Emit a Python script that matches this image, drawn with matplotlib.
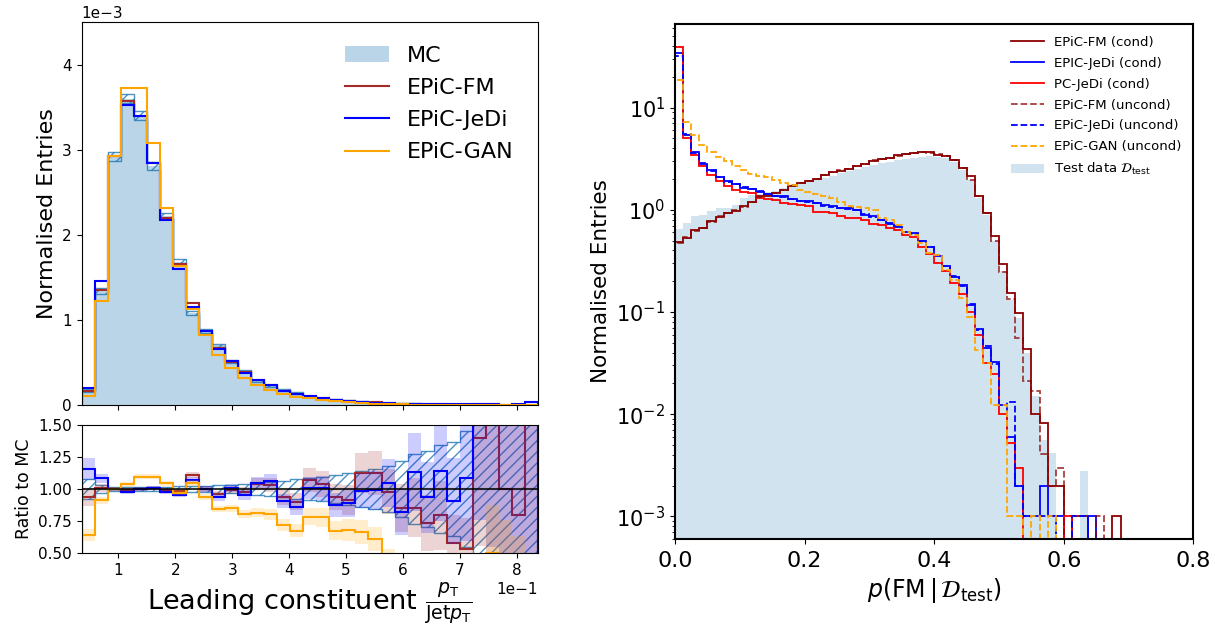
import numpy as np
import matplotlib
matplotlib.use('Agg')
import matplotlib.pyplot as plt

# ---- leading constituent pT / jet pT ----
lead_range = (0.0356, 0.837)
lead_nbins = 35

# MC histogram, normalised entries in units of 1e-3
mc_lead = [0.17, 1.34, 2.92, 3.60, 3.40, 2.81, 2.22, 1.68, 1.08, 0.87, 0.70, 0.51,
           0.40, 0.285, 0.225, 0.18, 0.145, 0.10, 0.077, 0.062, 0.047, 0.036, 0.028,
           0.022, 0.018, 0.015, 0.012, 0.010, 0.008, 0.007, 0.005, 0.004, 0.003,
           0.003, 0.002]
# relative statistical uncertainty per bin
mc_relerr = [0.075, 0.03, 0.018, 0.016, 0.016, 0.017, 0.018, 0.02, 0.022, 0.025,
             0.028, 0.032, 0.038, 0.045, 0.052, 0.062, 0.075, 0.085, 0.095, 0.11,
             0.125, 0.14, 0.155, 0.18, 0.22, 0.27, 0.3, 0.34, 0.37, 0.45, 0.6,
             0.75, 0.9, 1.1, 1.4]

# generated / MC ratios
ratio_fm = [0.934, 1.01, 1.0, 0.992, 1.0, 1.01, 0.992, 0.984, 1.109, 1.0, 0.96,
            0.99, 0.98, 1.036, 1.03, 0.934, 0.9, 1.07, 1.04, 0.935, 0.915, 1.125,
            1.125, 0.98, 0.85, 0.855, 0.735, 0.795, 0.58, 0.535, 1.395, 2.0, 1.0,
            0.8, 2.0]
ratio_jedi = [1.155, 1.083, 1.0, 0.979, 0.997, 1.01, 0.979, 0.953, 1.07, 1.0,
              0.934, 1.01, 0.953, 1.044, 1.06, 0.908, 0.861, 1.005, 1.005, 0.875,
              0.89, 0.987, 0.99, 1.044, 0.822, 1.13, 0.934, 1.14, 0.905, 1.083,
              1.9, 2.2, 1.8, 2.5, 15.0]
ratio_gan = [0.639, 0.913, 1.0, 1.036, 1.096, 1.096, 1.044, 0.971, 1.049, 0.94,
             0.841, 0.849, 0.802, 0.815, 0.802, 0.72, 0.674, 0.785, 0.78, 0.675,
             0.68, 0.665, 0.61, 0.45, 0.35, 0.3, 0.25, 0.3, 0.2, 0.25, 0.3, 0.5,
             0.4, 0.3, 0.2]

lead_models = ['EPiC-FM', 'EPiC-JeDi', 'EPiC-GAN']
lead_colors = ['brown', 'blue', 'orange']

# ---- classifier output p(FM | D_test) ----
p_range = (0.0, 0.8)
p_nbins = 64

fm_cond = [0.48, 0.53, 0.64, 0.66, 0.77, 0.85, 0.94, 0.98, 1.08, 1.18, 1.35, 1.38,
           1.46, 1.57, 1.72, 1.83, 1.92, 2.02, 2.17, 2.32, 2.42, 2.5, 2.66, 2.82,
           3.02, 3.14, 3.21, 3.4, 3.51, 3.6, 3.65, 3.65, 3.46, 3.38, 3.09, 2.56,
           2.12, 1.37, 0.93, 0.55, 0.296, 0.153, 0.097, 0.043, 0.010, 0.0081,
           0.002, 0.002, 0, 0.001, 0.001, 0, 0, 0, 0.001, 0, 0, 0, 0, 0, 0, 0, 0, 0]
jedi_cond = [34, 5.43, 3.65, 2.83, 2.43, 2.09, 1.9, 1.79, 1.65, 1.6, 1.51, 1.43,
             1.37, 1.35, 1.27, 1.23, 1.21, 1.16, 1.12, 1.08, 1.04, 1.03, 1.0, 0.89,
             0.86, 0.79, 0.74, 0.68, 0.61, 0.59, 0.49, 0.437, 0.354, 0.284, 0.222,
             0.184, 0.117, 0.068, 0.044, 0.0327, 0.0122, 0.006, 0.002, 0.001,
             0.001, 0.002, 0.001, 0.001, 0, 0, 0, 0.001, 0, 0, 0, 0, 0, 0, 0, 0,
             0, 0, 0, 0]
pcjedi_cond = [39, 5.04, 3.46, 2.66, 2.2, 1.9, 1.72, 1.55, 1.48, 1.46, 1.30, 1.27,
               1.25, 1.16, 1.15, 1.12, 1.08, 0.96, 0.96, 0.94, 0.86, 0.84, 0.84,
               0.79, 0.73, 0.71, 0.66, 0.63, 0.57, 0.54, 0.43, 0.37, 0.30, 0.25,
               0.194, 0.15, 0.1, 0.059, 0.0316, 0.0247, 0.0101, 0.0052, 0.003, 0,
               0, 0, 0, 0, 0.001, 0, 0, 0, 0, 0, 0, 0, 0, 0, 0, 0, 0, 0, 0, 0]
fm_uncond = [0.47, 0.54, 0.62, 0.67, 0.76, 0.86, 0.93, 0.99, 1.07, 1.19, 1.33,
             1.39, 1.47, 1.56, 1.73, 1.82, 1.93, 2.01, 2.18, 2.33, 2.43, 2.49,
             2.68, 2.8, 3.04, 3.12, 3.23, 3.38, 3.53, 3.58, 3.66, 3.63, 3.48, 3.36,
             3.1, 2.54, 1.97, 1.36, 0.94, 0.49, 0.248, 0.133, 0.056, 0.021, 0.0169,
             0.0041, 0.002, 0.003, 0, 0, 0, 0, 0.001, 0, 0, 0, 0, 0, 0, 0, 0, 0,
             0, 0]
jedi_uncond = [32, 5.5, 3.6, 2.9, 2.4, 2.1, 1.88, 1.78, 1.67, 1.58, 1.52, 1.42,
               1.38, 1.33, 1.28, 1.22, 1.2, 1.17, 1.1, 1.07, 1.05, 1.02, 0.99, 0.9,
               0.85, 0.8, 0.73, 0.69, 0.6, 0.58, 0.5, 0.43, 0.36, 0.28, 0.225,
               0.18, 0.12, 0.066, 0.046, 0.031, 0.0122, 0.013, 0.002, 0.001, 0.001,
               0.001, 0.001, 0, 0, 0.001, 0.001, 0, 0, 0, 0, 0, 0, 0, 0, 0, 0, 0,
               0, 0]
gan_uncond = [18.8, 7.18, 5.43, 4.34, 3.65, 3.28, 2.97, 2.66, 2.43, 2.25, 2.15,
              2.09, 1.97, 1.83, 1.76, 1.55, 1.48, 1.43, 1.35, 1.30, 1.2, 1.1, 1.06,
              1.04, 1.0, 0.83, 0.8, 0.71, 0.61, 0.57, 0.47, 0.38, 0.36, 0.26, 0.207,
              0.136, 0.09, 0.042, 0.032, 0.0122, 0.0122, 0.001, 0.001, 0, 0.001, 0,
              0.001, 0, 0, 0, 0, 0, 0, 0, 0, 0, 0, 0, 0, 0, 0, 0, 0, 0]
test_data = [0.647, 0.75, 0.87, 0.89, 0.98, 1.04, 1.04, 1.12, 1.3, 1.4, 1.42, 1.48,
             1.52, 1.62, 1.72, 1.8, 1.88, 1.97, 2.06, 2.16, 2.28, 2.38, 2.5, 2.62,
             2.75, 2.85, 2.95, 3.05, 3.15, 3.22, 3.3, 3.35, 3.3, 3.2, 2.95, 2.45,
             1.95, 1.3, 0.88, 0.5, 0.25, 0.13, 0.087, 0.04, 0.015, 0.0056, 0.0042,
             0, 0, 0, 0.0028, 0, 0, 0, 0, 0, 0, 0, 0, 0, 0, 0, 0, 0]

fig = plt.figure(figsize=(12.15, 6.32), dpi=100)
ax_top = fig.add_axes([0.0672, 0.3592, 0.3756, 0.606])
ax_rat = fig.add_axes([0.0672, 0.125, 0.3756, 0.2025], sharex=ax_top)
ax_p = fig.add_axes([0.5556, 0.1472, 0.4267, 0.815])

# ---------- left: histogram ----------
edges = np.linspace(lead_range[0], lead_range[1], lead_nbins + 1)
mc = np.array(mc_lead) * 1e-3
err = np.array(mc_relerr)
ratios = [np.array(ratio_fm), np.array(ratio_jedi), np.array(ratio_gan)]

ax_top.stairs(mc, edges, fill=True, color='tab:blue', alpha=0.3, lw=0, label='MC')
ax_top.fill_between(edges, np.append(mc * (1 - err), 0), np.append(mc * (1 + err), 0),
                    step='post', facecolor='none', edgecolor='tab:blue', hatch='///',
                    lw=1.0, alpha=0.8)
for r, name, c in zip(ratios, lead_models, lead_colors):
    ax_top.stairs(mc * r, edges, color=c, lw=1.5, label=name)

ax_top.set_xlim(*lead_range)
ax_top.set_ylim(0, 4.5e-3)
ax_top.set_yticks([0, 1e-3, 2e-3, 3e-3, 4e-3])
ax_top.ticklabel_format(axis='y', style='sci', scilimits=(0, 0))
ax_top.yaxis.get_offset_text().set_fontsize(11)
ax_top.tick_params(labelbottom=False, labelsize=11)
ax_top.xaxis.get_offset_text().set_visible(False)
ax_top.set_ylabel('Normalised Entries', fontsize=16)
ax_top.legend(loc='upper right', frameon=False, fontsize=16, labelspacing=0.55,
              bbox_to_anchor=(0.99, 0.99))

# ratio panel
ax_rat.fill_between(edges, np.append(1 - err, 1 - err[-1]), np.append(1 + err, 1 + err[-1]),
                    step='post', facecolor='none', edgecolor='tab:blue', hatch='///',
                    lw=1.0, alpha=0.8)
for r, c in zip(ratios, lead_colors):
    ax_rat.fill_between(edges, np.append(r * (1 - err), 0), np.append(r * (1 + err), 0),
                        step='post', color=c, alpha=0.2, lw=0)
    ax_rat.stairs(r, edges, color=c, lw=1.5)
ax_rat.axhline(1.0, color='black', lw=1.5, alpha=0.8)
ax_rat.set_ylim(0.5, 1.5)
ax_rat.set_yticks([0.5, 0.75, 1.0, 1.25, 1.5])
ax_rat.set_yticklabels(['0.50', '0.75', '1.00', '1.25', '1.50'])
ax_rat.ticklabel_format(axis='x', style='sci', scilimits=(0, 0))
ax_rat.xaxis.get_offset_text().set_fontsize(11)
ax_rat.tick_params(labelsize=11)
ax_rat.set_ylabel('Ratio to MC', fontsize=12.5)
ax_rat.set_xlabel(r'Leading constituent $\frac{p_\mathrm{T}}{\mathrm{Jet}p_\mathrm{T}}$',
                  fontsize=19.5, labelpad=2)

# ---------- right: classifier output ----------
p_edges = np.linspace(p_range[0], p_range[1], p_nbins + 1)
h_test = ax_p.stairs(np.array(test_data), p_edges, fill=True, color='tab:blue',
                     alpha=0.2, lw=0, label=r'Test data $\mathcal{D}_\mathrm{test}$')
lines = [
    (fm_cond, 'darkred', '-', 1.0, 'EPiC-FM (cond)'),
    (jedi_cond, 'blue', '-', 1.0, 'EPIC-JeDi (cond)'),
    (pcjedi_cond, 'red', '-', 1.0, 'PC-JeDi (cond)'),
    (fm_uncond, 'darkred', '--', 0.75, 'EPiC-FM (uncond)'),
    (jedi_uncond, 'blue', '--', 1.0, 'EPiC-JeDi (uncond)'),
    (gan_uncond, 'orange', '--', 1.0, 'EPiC-GAN (uncond)'),
]
handles = []
for vals, c, ls, a, name in lines:
    h = ax_p.stairs(np.array(vals), p_edges, color=c, ls=ls, alpha=a, lw=1.3, label=name)
    handles.append(h)
handles.append(h_test)

ax_p.set_yscale('log')
ax_p.set_xlim(*p_range)
ax_p.set_ylim(6e-4, 66)
ax_p.set_xticks([0.0, 0.2, 0.4, 0.6, 0.8])
ax_p.tick_params(axis='x', labelsize=16, pad=5)
ax_p.tick_params(axis='y', labelsize=15)
ax_p.set_ylabel('Normalised Entries', fontsize=15.5)
ax_p.set_xlabel(r'$p(\mathrm{FM}\,|\,\mathcal{D}_\mathrm{test})$', fontsize=17)
for s in ax_p.spines.values():
    s.set_linewidth(1.5)
ax_p.legend(handles=handles, loc='upper right', frameon=False, fontsize=9.5,
            handlelength=2.5, labelspacing=0.6)

fig.savefig('out.png', dpi=100)
